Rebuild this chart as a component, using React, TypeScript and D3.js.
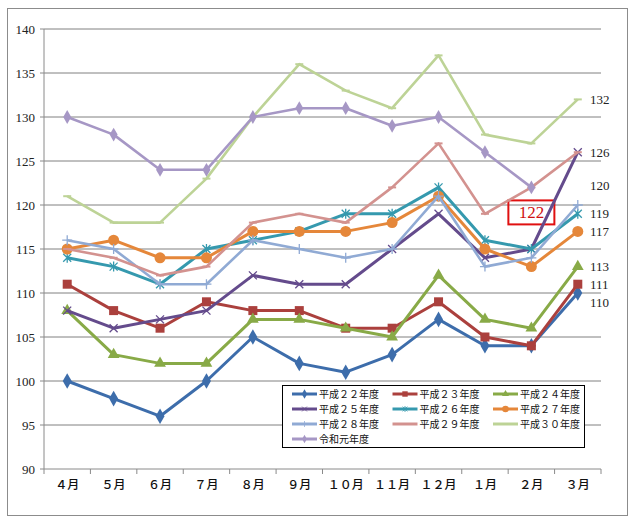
import * as d3 from 'd3';

const MONTHS = ['４月', '５月', '６月', '７月', '８月', '９月', '１０月', '１１月', '１２月', '１月', '２月', '３月'];
const Y_TICKS = [90, 95, 100, 105, 110, 115, 120, 125, 130, 135, 140];

const NAMES = ['平成２２年度', '平成２３年度', '平成２４年度', '平成２５年度', '平成２６年度', '平成２７年度', '平成２８年度', '平成２９年度', '平成３０年度', '令和元年度'];

const H22 = [100, 98, 96, 100, 105, 102, 101, 103, 107, 104, 104, 110];
const H23 = [111, 108, 106, 109, 108, 108, 106, 106, 109, 105, 104, 111];
const H24 = [108, 103, 102, 102, 107, 107, 106, 105, 112, 107, 106, 113];
const H25 = [108, 106, 107, 108, 112, 111, 111, 115, 119, 114, 115, 126];
const H26 = [114, 113, 111, 115, 116, 117, 119, 119, 122, 116, 115, 119];
const H27 = [115, 116, 114, 114, 117, 117, 117, 118, 121, 115, 113, 117];
const H28 = [116, 115, 111, 111, 116, 115, 114, 115, 121, 113, 114, 120];
const H29 = [115, 114, 112, 113, 118, 119, 118, 122, 127, 119, 122, 126];
const H30 = [121, 118, 118, 123, 130, 136, 133, 131, 137, 128, 127, 132];
const R01 = [130, 128, 124, 124, 130, 131, 131, 129, 130, 126, 122, null];

const VALUES: (number | null)[][] = [H22, H23, H24, H25, H26, H27, H28, H29, H30, R01];

// labels typed next to the 3月 end of the lines
const END_LABELS = [132, 126, 120, 119, 117, 113, 111, 110];
const END_NUDGE = [0, 0, -20, 0, 0, 0, 0, 9];

const HIGHLIGHT_MONTH = '２月';
const HIGHLIGHT_VALUE = 122;

const COLORS = ['#3d6dab', '#ab403d', '#88aa47', '#644b8c', '#3599ae', '#e5873a', '#90aad4', '#d3928f', '#bdd396', '#a697c5'];
const MARKERS = ['diamond', 'square', 'triangle', 'x', 'asterisk', 'circle', 'plus', 'dash', 'dash', 'diamondSmall'];

const W = 635;
const H = 526;
const left = 44;
const right = 601;
const top = 29;
const bottom = 469;

const x = d3.scaleBand<string>().domain(MONTHS).range([left, right]);
const cx = (m: string) => (x(m) ?? 0) + x.bandwidth() / 2;
const y = d3.scaleLinear().domain([90, 140]).range([bottom, top]);

function Marker({ kind, px, py, color }: { kind: string; px: number; py: number; color: string }) {
  const t = `translate(${px},${py})`;
  switch (kind) {
    case 'diamond':
      return <path transform={t} d={d3.symbol(d3.symbolDiamond, 70)()!} fill={color} />;
    case 'diamondSmall':
      return <path transform={t} d={d3.symbol(d3.symbolDiamond, 55)()!} fill={color} />;
    case 'square':
      return <rect x={px - 4.5} y={py - 4.5} width={9} height={9} fill={color} />;
    case 'triangle':
      return <path transform={t} d={d3.symbol(d3.symbolTriangle, 60)()!} fill={color} />;
    case 'circle':
      return <circle cx={px} cy={py} r={5.5} fill={color} />;
    case 'x':
      return <path transform={t} d="M-4,-4L4,4M-4,4L4,-4" stroke={color} strokeWidth={1.3} fill="none" />;
    case 'asterisk':
      return <path transform={t} d="M-4,-4L4,4M-4,4L4,-4M0,-5L0,5" stroke={color} strokeWidth={1.3} fill="none" />;
    case 'plus':
      return <path transform={t} d="M-5,0L5,0M0,-5L0,5" stroke={color} strokeWidth={1.3} fill="none" />;
    case 'dash':
      return <path transform={t} d="M-4,0L4,0" stroke={color} strokeWidth={2} fill="none" />;
    default:
      return null;
  }
}

export default function App() {
  const line = d3
    .line<number | null>()
    .defined((d) => d !== null)
    .x((_d, i) => cx(MONTHS[i]))
    .y((d) => y(d as number));

  const serif = '"Liberation Serif", "DejaVu Serif", serif';
  const gothic = '"Noto Sans CJK JP", sans-serif';

  const legendX = 282;
  const legendY = 385;

  return (
    <svg width={W} height={H} style={{ position: 'absolute', left: 0, top: 0, background: '#fff' }}>
      <rect x={7.5} y={8.5} width={620} height={507} fill="#fff" stroke="#8c8c8c" strokeWidth={1} />

      {/* grid */}
      {Y_TICKS.slice(1).map((t) => (
        <line key={t} x1={left} x2={right} y1={y(t)} y2={y(t)} stroke="#808080" strokeWidth={1} />
      ))}

      {/* axes */}
      <line x1={left} x2={left} y1={top} y2={bottom} stroke="#8a8a8a" />
      <line x1={left} x2={right} y1={bottom} y2={bottom} stroke="#8a8a8a" />
      {Y_TICKS.map((t) => (
        <g key={t}>
          <line x1={left - 4} x2={left} y1={y(t)} y2={y(t)} stroke="#8a8a8a" />
          <text x={35} y={y(t)} dy="0.35em" textAnchor="end" fontFamily={serif} fontSize={13} fill="#222">
            {t}
          </text>
        </g>
      ))}
      {MONTHS.map((m) => (
        <line key={m} x1={x(m)} x2={x(m)} y1={bottom} y2={bottom + 5} stroke="#8a8a8a" />
      ))}
      <line x1={right} x2={right} y1={bottom} y2={bottom + 5} stroke="#8a8a8a" />
      {MONTHS.map((m) => (
        <text key={m} x={cx(m)} y={489} textAnchor="middle" fontFamily={gothic} fontSize={12} fontWeight={500} fill="#111">
          {m}
        </text>
      ))}

      {/* highlighted value (drawn under the lines) */}
      <rect x={cx(HIGHLIGHT_MONTH) - 23} y={y(HIGHLIGHT_VALUE) + 13} width={46} height={24} fill="none" stroke="#e01010" strokeWidth={2} />
      <text x={cx(HIGHLIGHT_MONTH)} y={y(HIGHLIGHT_VALUE) + 25} dy="0.35em" textAnchor="middle" fontFamily={serif} fontSize={17} fill="#d01010">
        {HIGHLIGHT_VALUE}
      </text>

      {/* series */}
      {VALUES.map((vals, si) => (
        <g key={NAMES[si]}>
          <path d={line(vals)!} fill="none" stroke={COLORS[si]} strokeWidth={si < 6 ? 3 : 2.6} strokeLinejoin="round" />
          {vals.map((v, i) =>
            v === null ? null : (
              <Marker key={i} kind={MARKERS[si]} px={cx(MONTHS[i])} py={y(v)} color={COLORS[si]} />
            )
          )}
        </g>
      ))}

      {/* end labels */}
      {END_LABELS.map((v, i) => (
        <text key={i} x={590} y={y(v) + END_NUDGE[i]} dy="0.35em" fontFamily={serif} fontSize={13} fill="#222">
          {v}
        </text>
      ))}

      {/* legend */}
      <rect x={legendX + 0.5} y={legendY + 0.5} width={302} height={62} fill="#fff" stroke="#000" strokeWidth={1} />
      {NAMES.map((n, i) => {
        const lx = legendX + 10 + (i % 3) * 100.5;
        const ly = legendY + 9 + Math.floor(i / 3) * 15;
        return (
          <g key={n}>
            <line x1={lx} x2={lx + 25} y1={ly} y2={ly} stroke={COLORS[i]} strokeWidth={3} />
            <g transform={`translate(${lx + 12.5},${ly}) scale(0.6)`}>
              <Marker kind={MARKERS[i]} px={0} py={0} color={COLORS[i]} />
            </g>
            <text x={lx + 27} y={ly} dy="0.36em" fontFamily={gothic} fontSize={10} fill="#111">
              {n}
            </text>
          </g>
        );
      })}
    </svg>
  );
}
